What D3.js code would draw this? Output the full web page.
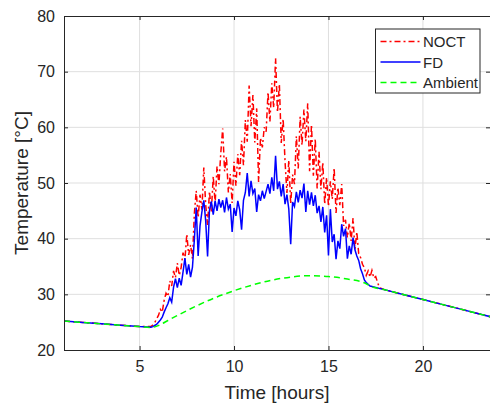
<!DOCTYPE html>
<html>
<head>
<meta charset="utf-8">
<script src="https://cdn.jsdelivr.net/npm/d3@7"></script>
<style>
  body { margin: 0; background: #fff; }
  svg { display: block; }
  text { font-family: "Liberation Sans", Arial, Helvetica, sans-serif; fill: #262626; }
</style>
</head>
<body>
<svg id="chart"></svg>
<script>
var width = 490, height = 403;
var margin = {top: 16, right: 0, bottom: 53, left: 64};
var plotW = width - margin.left - margin.right;
var plotH = height - margin.top - margin.bottom;

// ambient temperature (hour, degC)
var ambHours = [1, 2, 3, 4, 5, 5.6, 6, 6.5, 7, 8, 9, 10, 11, 12, 13, 14, 15, 16, 17, 17.2, 18, 19, 20, 21, 22, 23, 23.6];
var ambTemp  = [25.2, 24.95, 24.7, 24.45, 24.2, 24.05, 24.4, 25.3, 26.2, 27.9, 29.4, 30.65, 31.7, 32.55, 33.1, 33.35, 33.2, 32.75, 31.9, 31.5, 30.8, 29.94, 29.07, 28.2, 27.34, 26.47, 25.95];

// daytime samples, every 6 minutes
var dayHours = [5.6, 5.7, 5.8, 5.9, 6.0, 6.1, 6.2, 6.3, 6.4, 6.5, 6.6, 6.7, 6.8, 6.9, 7.0, 7.1, 7.2, 7.3, 7.4, 7.5,
  7.6, 7.7, 7.8, 7.9, 8.0, 8.1, 8.2, 8.3, 8.4, 8.5, 8.6, 8.7, 8.8, 8.9, 9.0, 9.1, 9.2, 9.3, 9.4, 9.5,
  9.6, 9.7, 9.8, 9.9, 10.0, 10.1, 10.2, 10.3, 10.4, 10.5, 10.6, 10.7, 10.8, 10.9, 11.0, 11.1, 11.2, 11.3, 11.4, 11.5,
  11.6, 11.7, 11.8, 11.9, 12.0, 12.1, 12.2, 12.3, 12.4, 12.5, 12.6, 12.7, 12.8, 12.9, 13.0, 13.1, 13.2, 13.3, 13.4, 13.5,
  13.6, 13.7, 13.8, 13.9, 14.0, 14.1, 14.2, 14.3, 14.4, 14.5, 14.6, 14.7, 14.8, 14.9, 15.0, 15.1, 15.2, 15.3, 15.4, 15.5,
  15.6, 15.7, 15.8, 15.9, 16.0, 16.1, 16.2, 16.3, 16.4, 16.5, 16.6, 16.7, 16.8, 16.9, 17.0, 17.1, 17.2, 17.3, 17.4, 17.5,
  17.6, 17.7];

var noctTemp = [24.2, 24.5, 24.9, 25.6, 26.2, 27.3, 26.8, 28.9, 30.2, 29.6, 32.4, 31.5, 34.2, 33.0, 35.6, 33.4, 34.8, 37.5, 36.2, 40.8,
  37.1, 38.9, 36.4, 44.5, 48.6, 43.8, 47.9, 45.2, 52.8, 46.1, 42.4, 48.5, 44.9, 51.2, 46.3, 53.0, 49.8, 55.4, 59.8, 52.1,
  54.7, 48.3, 51.6, 46.4, 53.8, 49.5, 55.2, 51.4, 57.6, 53.2, 61.3, 57.4, 67.5, 60.2, 65.8, 57.3, 63.4, 50.2, 58.1, 56.4,
  60.0, 59.2, 66.3, 61.0, 67.9, 63.5, 72.4, 62.7, 67.8, 57.2, 61.5, 53.9, 48.2, 54.1, 46.3, 51.5, 49.8, 58.4, 52.6, 61.9,
  56.8, 63.2, 57.5, 64.3, 52.1, 60.5, 51.3, 57.9, 49.0, 55.6, 48.9, 53.7, 46.2, 51.0, 45.8, 50.3, 47.1, 52.7, 44.6, 49.2,
  46.0, 49.8, 42.3, 43.4, 40.2, 42.8, 39.6, 43.7, 38.1, 41.2, 37.3, 36.6, 35.4, 34.8, 33.4, 34.2, 33.1, 34.3, 32.9, 33.2,
  32.1, 31.2];

var fdTemp = [24.1, 24.2, 24.4, 24.6, 25.0, 25.4, 25.9, 26.8, 27.6, 28.3, 29.4, 28.6, 31.3, 32.8, 31.2, 32.9, 31.6, 34.0, 36.5, 33.6,
  35.4, 33.1, 34.9, 39.8, 45.6, 36.9, 42.3, 44.8, 46.9, 43.2, 36.8, 45.1, 46.7, 44.3, 46.8, 45.0, 47.1, 45.6, 46.9, 44.7,
  47.4, 45.3, 46.2, 41.2, 45.5, 44.1, 46.8, 45.2, 41.6, 46.9, 48.3, 51.8, 47.6, 50.4, 48.1, 49.0, 44.8, 47.9, 46.8, 48.6,
  47.2, 48.5, 49.8, 48.1, 51.0, 48.6, 54.9, 48.9, 50.3, 47.6, 49.8, 46.2, 47.9, 45.3, 39.0, 46.6, 45.8, 48.4, 46.5, 48.7,
  47.3, 49.9, 44.8, 48.6, 46.1, 48.3, 45.9, 47.8, 44.6, 45.9, 43.0, 45.7, 41.1, 44.2, 37.0, 45.3, 39.4, 40.8, 36.3, 39.6,
  38.2, 42.6, 40.4, 41.8, 36.4, 38.7, 37.2, 40.2, 38.0, 36.9, 36.1, 34.6, 33.7, 32.6, 32.1, 31.8, 31.5];

var xTicks = [5, 10, 15, 20];
var yTicks = [20, 30, 40, 50, 60, 70, 80];
var seriesNames = ["NOCT", "FD", "Ambient"];

var ambient = ambHours.map(function(h, i){ return [h, ambTemp[i]]; });
function daySeries(vals){
  var pts = dayHours.slice(0, vals.length).map(function(h, i){ return [h, vals[i]]; });
  var first = pts[0][0], last = pts[pts.length - 1][0];
  return ambient.filter(function(p){ return p[0] < first; })
    .concat(pts)
    .concat(ambient.filter(function(p){ return p[0] > last; }));
}
var noct = daySeries(noctTemp);
var fd = daySeries(fdTemp);

var svg = d3.select("#chart").attr("width", width).attr("height", height);
var chart = svg.append("g")
  .attr("transform", "translate(" + margin.left + "," + margin.top + ")");

var x = d3.scaleLinear().domain([1, 23.55]).range([0, plotW]);
var y = d3.scaleLinear().domain([20, 80]).range([plotH, 0]);

svg.append("defs").append("clipPath").attr("id", "clip")
  .append("rect").attr("width", plotW).attr("height", plotH);

// grid
chart.append("g").selectAll("line").data(xTicks).enter().append("line")
  .attr("x1", function(d){ return x(d); }).attr("x2", function(d){ return x(d); })
  .attr("y1", 0).attr("y2", plotH)
  .attr("stroke", "#dfdfdf").attr("stroke-width", 1);
chart.append("g").selectAll("line").data(yTicks.slice(1, -1)).enter().append("line")
  .attr("y1", function(d){ return y(d); }).attr("y2", function(d){ return y(d); })
  .attr("x1", 0).attr("x2", plotW)
  .attr("stroke", "#dfdfdf").attr("stroke-width", 1);

// lines
var line = d3.line().x(function(d){ return x(d[0]); }).y(function(d){ return y(d[1]); });
var lines = chart.append("g").attr("clip-path", "url(#clip)");
lines.append("path").datum(noct).attr("d", line)
  .attr("fill", "none").attr("stroke", "#ff0000").attr("stroke-width", 1.5)
  .attr("stroke-dasharray", "6,3,2,3");
lines.append("path").datum(fd).attr("d", line)
  .attr("fill", "none").attr("stroke", "#0000ff").attr("stroke-width", 1.5);
lines.append("path").datum(ambient).attr("d", line.curve(d3.curveMonotoneX))
  .attr("fill", "none").attr("stroke", "#00ff00").attr("stroke-width", 1.5)
  .attr("stroke-dasharray", "6,4");

// axes
var xAxis = d3.axisBottom(x).tickValues(xTicks).tickSize(-4).tickPadding(11);
var yAxis = d3.axisLeft(y).tickValues(yTicks).tickSize(-4).tickPadding(9);
var xTop = d3.axisTop(x).tickValues(xTicks).tickSize(-4).tickFormat("");
var yRight = d3.axisRight(y).tickValues(yTicks).tickSize(-4).tickFormat("");

function styleAxis(g){
  g.selectAll("path").attr("stroke", "#262626");
  g.selectAll("line").attr("stroke", "#262626");
  g.selectAll("text").attr("font-size", "16px").attr("fill", "#262626")
    .attr("font-family", "Liberation Sans, Arial, sans-serif");
}
chart.append("g").attr("transform", "translate(0," + plotH + ")").call(xAxis).call(styleAxis);
chart.append("g").call(yAxis).call(styleAxis);
chart.append("g").call(xTop).call(styleAxis);
chart.append("g").attr("transform", "translate(" + plotW + ",0)").call(yRight).call(styleAxis);

// axis labels
chart.append("text")
  .attr("x", plotW / 2).attr("y", plotH + 49)
  .attr("text-anchor", "middle").attr("font-size", "19px")
  .text("Time [hours]");
chart.append("text")
  .attr("transform", "translate(" + (28 - margin.left) + "," + (plotH / 2) + ") rotate(-90)")
  .attr("text-anchor", "middle").attr("font-size", "19px")
  .text("Temperature [°C]");

// legend
var legend = svg.append("g").attr("transform", "translate(375.5,29)");
legend.append("rect").attr("width", 104.5).attr("height", 64)
  .attr("fill", "#fff").attr("stroke", "#262626").attr("stroke-width", 1);
var legStyles = [
  {color: "#ff0000", dash: "6,3,2,3"},
  {color: "#0000ff", dash: null},
  {color: "#00ff00", dash: "6,4"}
];
var legRows = legend.selectAll(".leg").data(seriesNames).enter().append("g")
  .attr("class", "leg")
  .attr("transform", function(d, i){ return "translate(0," + (12.5 + i * 20.5) + ")"; });
legRows.append("line").attr("x1", 5).attr("x2", 45).attr("y1", 0).attr("y2", 0)
  .attr("stroke", function(d, i){ return legStyles[i].color; })
  .attr("stroke-width", 1.5)
  .attr("stroke-dasharray", function(d, i){ return legStyles[i].dash; });
legRows.append("text").attr("x", 47.5).attr("y", 5.5)
  .attr("font-size", "15px").text(function(d){ return d; });
</script>
</body>
</html>
